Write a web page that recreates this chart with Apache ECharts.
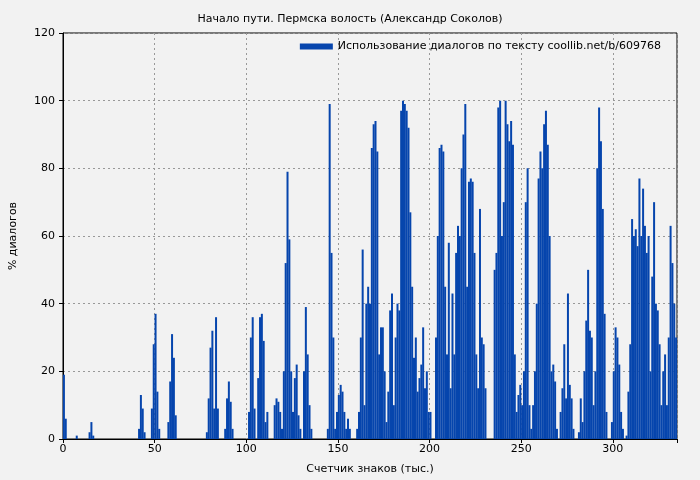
<!DOCTYPE html>
<html><head><meta charset="utf-8">
<script src="https://cdn.jsdelivr.net/npm/echarts@6/dist/echarts.min.js"></script>
<style>html,body{margin:0;background:#f2f2f2}#c{width:700px;height:480px}</style>
</head><body><div id="c"></div>
<script>
const titleText = 'Начало пути. Пермска волость (Александр Соколов)';
const seriesName = 'Использование диалогов по тексту coollib.net/b/609768';
const xTicks = [0, 50, 100, 150, 200, 250, 300];
const yTicks = [0, 20, 40, 60, 80, 100, 120];
const values = [
19,6,0,0,0,0,0,1,0,0, 0,0,0,0,2,5,1,0,0,0,
0,0,0,0,0,0,0,0,0,0, 0,0,0,0,0,0,0,0,0,0,
0,3,13,9,2,0,0,0,9,28, 37,14,3,0,0,0,0,5,17,31,
24,7,0,0,0,0,0,0,0,0, 0,0,0,0,0,0,0,0,2,12,
27,32,9,36,9,0,0,0,3,12, 17,11,3,0,0,0,0,0,0,0,
0,8,30,36,9,0,18,36,37,29, 5,8,0,0,0,10,12,11,8,3,
20,52,79,59,20,8,18,22,7,3, 0,20,39,25,10,3,0,0,0,0,
0,0,0,0,3,99,55,30,3,8, 13,16,14,8,3,6,3,0,0,0,
3,8,30,56,10,40,45,40,86,93, 94,85,25,33,33,20,5,14,38,43,
10,30,40,38,97,100,99,97,92,67, 45,24,30,14,18,22,33,15,20,8,
8,0,0,30,60,86,87,85,45,25, 58,15,43,25,55,63,60,80,90,99,
45,76,77,76,55,25,15,68,30,28, 15,0,0,0,0,50,55,98,100,60,
70,100,93,88,94,87,25,8,13,16, 10,20,70,80,10,3,10,20,40,77,
85,80,93,97,87,60,20,22,17,3, 0,8,15,28,12,43,16,12,3,0,
0,2,12,5,20,35,50,32,30,10, 20,80,98,88,68,37,8,0,0,5,
20,33,30,22,8,3,0,1,14,28, 65,60,62,57,77,60,74,63,55,60,
20,48,70,40,38,28,10,20,25,10, 30,63,52,40,30
];
const chart = echarts.init(document.getElementById('c'));
const font = 'DejaVu Sans';
chart.setOption({
  backgroundColor: '#f2f2f2',
  animation: false,
  title: {text: titleText, left: 'center', top: 9, textStyle: {fontSize: 11, fontWeight: 'normal', color: '#000', fontFamily: font}},
  legend: {right: 34, top: 36, itemWidth: 33, itemHeight: 6, itemGap: 6, icon: 'rect',
    textStyle: {fontSize: 11, color: '#000', fontFamily: font, padding:[0,0,0,0]}, align: 'left'},
  grid: {left: 61, right: 23, top: 33, bottom: 41, show: true, borderColor: '#000', borderWidth: 1, backgroundColor: 'transparent'},
  xAxis: {type: 'value', min: 0, max: 335, interval: 50,
    name: 'Счетчик знаков (тыс.)', nameLocation: 'middle', nameGap: 25,
    nameTextStyle: {fontSize: 11, color: '#000', fontFamily: font},
    axisLine: {lineStyle: {color: '#000'}}, axisTick: {length: 4, lineStyle: {color: '#000'}},
    axisLabel: {fontSize: 11, color: '#000', fontFamily: font, margin: 5,
      formatter: v => xTicks.includes(v) ? String(v) : ''},
    splitLine: {lineStyle: {color: '#999', type: [2, 3]}}},
  yAxis: {type: 'value', min: 0, max: 120, interval: 20,
    name: '% диалогов', nameLocation: 'middle', nameGap: 44,
    nameTextStyle: {fontSize: 11, color: '#000', fontFamily: font},
    axisLine: {show: true, lineStyle: {color: '#000'}}, axisTick: {show: true, length: 4, lineStyle: {color: '#000'}},
    axisLabel: {fontSize: 11, color: '#000', fontFamily: font, margin: 8,
      formatter: v => yTicks.includes(v) ? String(v) : ''},
    splitLine: {lineStyle: {color: '#999', type: [2, 3]}}},
  series: [{name: seriesName, type: 'bar', barWidth: 2, barGap: '-100%',
    itemStyle: {color: '#0645ad'},
    data: values.map((v, i) => [i + 0.5, v])}]
});
</script></body></html>
